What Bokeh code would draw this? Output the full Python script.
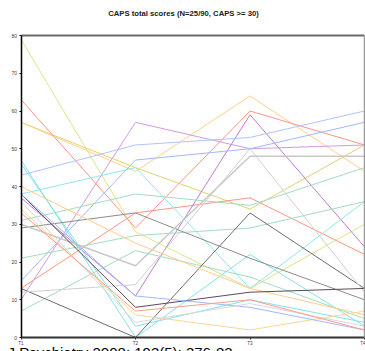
from bokeh.plotting import figure
from bokeh.models import Range1d, FixedTicker, Label, ColumnDataSource, LinearAxis
from bokeh.embed import file_html
from bokeh.resources import INLINE

# time points
timepoints = ["T1", "T2", "T3", "T4"]
x_positions = [1, 2, 3, 4]

# CAPS total scores per subject at each time point (25 subjects)
t1_scores = [79, 57, 57, 63, 13, 10, 37, 43, 15, 47, 46, 38, 31, 21, 7, 13, 29, 12, 30, 40, 34, 38, 38, 36, 33]
t2_scores = [28, 45, 44, 29, 33, 57, 11, 51, 47, 0, 3, 45, 38, 27, 23, 0, 33, 14, 19, 25, 6, 8, 11, 4, 7]
t3_scores = [13, 34, 64, 60, 37, 50, 59, 53, 50, 22, 10, 13, 35, 29, 16, 33, 21, 50, 48, 13, 2, 12, 8, 9, 10]
t4_scores = [30, 51, 44, 51, 22, 51, 24, 60, 57, 3, 4, 36, 45, 36, 5, 13, 10, 12, 48, 6, 7, 13, 2, 3, 2]

y_ticks = [0, 10, 20, 30, 40, 50, 60, 70, 80]

title_text = "CAPS total scores (N=25/90, CAPS >= 30)"
citation_text = "J Psychiatry 2008; 193(5): 376-83"

# line colours (style)
line_colors = ["#d9e58a", "#e3d36a", "#ffd08a", "#ff9484", "#ff9484",
               "#d29ae0", "#c07ad0", "#aec4ff", "#9fb8ff", "#84e2ea",
               "#84e2ea", "#90e6ee", "#a4dcc0", "#a4dcc0", "#a4dcc0",
               "#6c6c6c", "#8c8c8c", "#d0d0d0", "#c8c8c8", "#ffcc88",
               "#ffd590", "#5a4a5a", "#a0b8ff", "#d8d8d8", "#ff9c8c"]
line_widths = [1] * 25
line_widths[18] = 1.5

# plot geometry: frame covers the whole canvas; axes are placed at fixed data locations
PX_PER_X = 114.5
PX_PER_Y = 3.775
x_lo = x_positions[0] - 20.5 / PX_PER_X
x_hi = x_positions[-1] + 1.0 / PX_PER_X
y_lo = y_ticks[0] - 14.0 / PX_PER_Y
y_hi = y_ticks[-1] + 35.0 / PX_PER_Y

p = figure(width=365, height=351, output_backend="svg", toolbar_location=None,
           x_range=Range1d(x_lo, x_hi), y_range=Range1d(y_lo, y_hi),
           min_border=0, min_border_left=0, min_border_right=0,
           min_border_top=0, min_border_bottom=0)
p.background_fill_color = "white"
p.border_fill_color = "white"
p.outline_line_color = None
p.xgrid.visible = False
p.ygrid.visible = False

xs = []
ys = []
for i in range(len(t1_scores)):
    xs.append(list(x_positions))
    ys.append([t1_scores[i], t2_scores[i], t3_scores[i], t4_scores[i]])

src = ColumnDataSource(dict(xs=xs, ys=ys, color=line_colors, w=line_widths))
p.multi_line(xs="xs", ys="ys", line_color="color", line_width="w", source=src)

# bottom axis at y = 0
xa = p.xaxis[0]
xa.fixed_location = y_ticks[0]
xa.bounds = (x_positions[0], x_positions[-1])
xa.ticker = FixedTicker(ticks=x_positions)
xa.major_label_overrides = {x: t for x, t in zip(x_positions, timepoints)}
xa.minor_tick_line_color = None
xa.major_tick_in = 0
xa.major_tick_out = 2
xa.major_label_standoff = 1
xa.major_label_text_font_size = "4.5px"
xa.major_label_text_color = "#404040"
xa.major_label_text_font = "Liberation Sans"
xa.axis_line_color = "#333333"
xa.axis_line_width = 2
xa.major_tick_line_color = "#333333"

# left axis at x = T1
ya = p.yaxis[0]
ya.fixed_location = x_positions[0]
ya.bounds = (y_ticks[0], y_ticks[-1])
ya.ticker = FixedTicker(ticks=y_ticks)
ya.minor_tick_line_color = None
ya.major_tick_in = 0
ya.major_tick_out = 2
ya.major_label_standoff = 2
ya.major_label_text_font_size = "5px"
ya.major_label_text_color = "#404040"
ya.major_label_text_font = "Liberation Sans"
ya.axis_line_color = "black"
ya.axis_line_width = 1.5
ya.major_tick_line_color = "black"

# plot-area frame: top and right borders
top_ax = LinearAxis(fixed_location=y_ticks[-1], bounds=(x_positions[0], x_positions[-1]),
                    ticker=FixedTicker(ticks=[]), minor_tick_line_color=None,
                    major_tick_line_color=None, major_label_text_font_size="0px",
                    axis_line_color="#6a6a6a", axis_line_width=2)
p.add_layout(top_ax, "above")
right_ax = LinearAxis(fixed_location=x_positions[-1], bounds=(y_ticks[0], y_ticks[-1]),
                      ticker=FixedTicker(ticks=[]), minor_tick_line_color=None,
                      major_tick_line_color=None, major_label_text_font_size="0px",
                      axis_line_color="#9a9a9a", axis_line_width=1.5)
p.add_layout(right_ax, "right")

title = Label(x=1 + (183 - 20.5) / PX_PER_X, y=y_ticks[-1] + 22 / PX_PER_Y, text=title_text,
              text_align="center", text_baseline="middle",
              text_font="Liberation Sans", text_font_size="7.7px", text_font_style="bold",
              text_color="#202020")
p.add_layout(title)

cite = Label(x=1 + (7 - 20.5) / PX_PER_X, y=-6 / PX_PER_Y, text=citation_text,
             text_align="left", text_baseline="top",
             text_font="Liberation Sans", text_font_size="15px", text_color="black")
p.add_layout(cite)

open("out.html", "w").write(file_html(p, INLINE))
